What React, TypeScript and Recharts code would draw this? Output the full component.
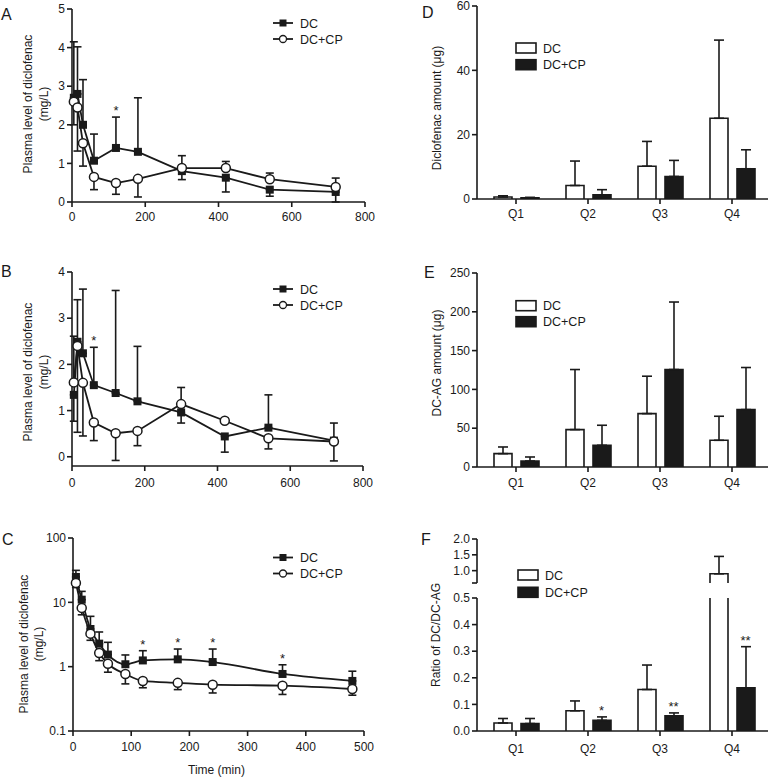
import React from "react";
import {
  LineChart,
  ComposedChart,
  Line,
  Bar,
  XAxis,
  YAxis,
  ErrorBar,
  LabelList,
} from "recharts";

const FONT = "'Liberation Sans', Arial, Helvetica, sans-serif";
const INK = "#1a1a1a";

const seriesNames = ["DC", "DC+CP"];

// A: plasma diclofenac, linear scale
const minutesAB = [5, 15, 30, 60, 120, 180, 300, 420, 540, 720];
const dcMeanA = [2.7, 2.8, 2.0, 1.07, 1.4, 1.3, 0.8, 0.63, 0.32, 0.26];
const dcUpA = [1.45, 1.22, 1.17, 0.69, 0.8, 1.4, 0, 0, 0, 0];
const dcDownA = [0, 0, 0, 0, 0, 0, 0.22, 0.37, 0.17, 0.26];
const cpMeanA = [2.6, 2.45, 1.52, 0.65, 0.49, 0.6, 0.88, 0.88, 0.59, 0.39];
const cpUpA = [0, 0, 0, 0, 0, 0, 0.32, 0.17, 0.16, 0.23];
const cpDownA = [0.6, 1.13, 0.59, 0.33, 0.29, 0.47, 0, 0, 0, 0];
const sigA = ["", "", "", "", "*", "", "", "", "", ""];

// B
const dcMeanB = [1.34, 2.49, 2.24, 1.55, 1.38, 1.2, 0.96, 0.44, 0.63, 0.35];
const dcUpB = [0, 0.91, 1.39, 0.82, 2.22, 1.19, 0, 0, 0.71, 0.38];
const dcDownB = [0.57, 0, 0, 0, 0, 0, 0.23, 0.34, 0, 0.44];
const cpMeanB = [1.61, 2.4, 1.6, 0.74, 0.51, 0.56, 1.14, 0.78, 0.4, 0.33];
const cpUpB = [1.0, 0, 0, 0, 0, 0, 0.36, 0.05, 0, 0];
const cpDownB = [0, 1.87, 1.15, 0.39, 0.59, 0.32, 0, 0, 0.23, 0];
const sigB = ["", "", "", "*", "", "", "", "", "", ""];

// C: log scale
const minutesC = [5, 15, 30, 45, 60, 90, 120, 180, 240, 360, 480];
const dcMeanC = [24.8, 11, 3.85, 2.28, 1.54, 1.09, 1.25, 1.3, 1.18, 0.77, 0.6];
const dcUpC = [6.6, 3.8, 2.21, 1.18, 0.85, 0.43, 0.52, 0.58, 0.7, 0.3, 0.25];
const cpMeanC = [20, 8.2, 3.26, 1.63, 1.11, 0.77, 0.6, 0.56, 0.525, 0.506, 0.45];
const cpDownC = [3, 1.8, 0.69, 0.39, 0.29, 0.23, 0.13, 0.12, 0.135, 0.136, 0.09];
const sigC = ["", "", "", "", "", "", "*", "*", "*", "*", ""];

// D-F: urinary amounts per quarter
const quarters = ["Q1", "Q2", "Q3", "Q4"];
const dcD = [0.6, 4.2, 10.2, 25.1];
const dcSdD = [0.4, 7.6, 7.7, 24.3];
const cpD = [0.4, 1.3, 7.0, 9.4];
const cpSdD = [0.1, 1.6, 5.0, 5.9];

const dcE = [17.2, 48.2, 68.8, 34.4];
const dcSdE = [8.6, 77.4, 48.2, 31.0];
const cpE = [7.7, 28.0, 125.6, 74.0];
const cpSdE = [5.2, 25.8, 87.0, 54.2];

const dcF = [0.03, 0.076, 0.156, 0.9];
const dcSdF = [0.017, 0.037, 0.092, 0.55];
const cpF = [0.028, 0.04, 0.057, 0.162];
const cpSdF = [0.019, 0.013, 0.011, 0.155];
const sigF = ["", "*", "**", "**"];

const F_LOW_TOP = 0.5;
const F_HIGH_BOTTOM = 0.61;

const axisStyle = {
  axisLine: { stroke: INK, strokeWidth: 1.6 },
  tickLine: { stroke: INK, strokeWidth: 1.6 },
  tick: { fill: INK, fontSize: 12, fontFamily: FONT },
  tickSize: 5,
};

const errPair = (lo: number, hi: number) => (lo || hi ? [lo, hi] : null);

function pkRows(
  t: number[],
  dc: number[],
  dcUp: number[],
  dcDown: number[] | null,
  cp: number[],
  cpUp: number[] | null,
  cpDown: number[],
  sig: string[]
) {
  return t.map((time, i) => ({
    t: time,
    dc: dc[i],
    dcErr: errPair(dcDown ? dcDown[i] : 0, dcUp[i]),
    cp: cp[i],
    cpErr: errPair(cpDown[i], cpUp ? cpUp[i] : 0),
    sig: sig[i] || undefined,
    star: sig[i] ? dc[i] + dcUp[i] : null,
  }));
}

function quarterRows(
  dc: number[],
  dcSd: number[],
  cp: number[],
  cpSd: number[],
  sig: string[] = [],
  range: [number, number] = [-Infinity, Infinity]
) {
  const [lo, hi] = range;
  const cell = (v: number, sd: number) =>
    v <= lo
      ? { v: null, err: null, open: false }
      : { v: Math.min(v, hi), err: v > hi ? null : [0, sd], open: v > hi };
  return quarters.map((q, i) => {
    const a = cell(dc[i], dcSd[i]);
    const b = cell(cp[i], cpSd[i]);
    return {
      q,
      dc: a.v,
      dcErr: a.err,
      dcOpen: a.open,
      cp: b.v,
      cpErr: b.err,
      cpOpen: b.open,
      sig: sig[i] || undefined,
      star: sig[i] ? cp[i] + cpSd[i] : null,
    };
  });
}

const rowsA = pkRows(minutesAB, dcMeanA, dcUpA, dcDownA, cpMeanA, cpUpA, cpDownA, sigA);
const rowsB = pkRows(minutesAB, dcMeanB, dcUpB, dcDownB, cpMeanB, cpUpB, cpDownB, sigB);
const rowsC = pkRows(minutesC, dcMeanC, dcUpC, null, cpMeanC, null, cpDownC, sigC);
const rowsD = quarterRows(dcD, dcSdD, cpD, cpSdD);
const rowsE = quarterRows(dcE, dcSdE, cpE, cpSdE);
const rowsFLow = quarterRows(dcF, dcSdF, cpF, cpSdF, sigF, [-Infinity, F_LOW_TOP]);
const rowsFHigh = quarterRows(dcF, dcSdF, cpF, cpSdF, [], [F_HIGH_BOTTOM, Infinity]);

function SquareDot(p: any) {
  if (p.cx == null || p.cy == null) return <g key={p.index} />;
  return <rect key={p.index} x={p.cx - 4} y={p.cy - 4} width={8} height={8} fill={INK} />;
}

function starLabel(dx: number) {
  return (p: any) => {
    if (!p.value) return null;
    const x = (p.viewBox?.x ?? p.x) + dx;
    const y = p.viewBox?.y ?? p.y;
    if (x == null || y == null || isNaN(x) || isNaN(y)) return null;
    return (
      <text x={x} y={y - 2} textAnchor="middle" fontSize={13} fontFamily={FONT} fill={INK}>
        {p.value}
      </text>
    );
  };
}

// bar with no bottom edge; top edge left off when the value runs past the axis break
function OpenBar(props: any) {
  const { x, y, width, height, fill, openTop } = props;
  if (x == null || y == null || !height || height <= 0) return <g />;
  const b = y + height;
  const edge = openTop
    ? `M${x},${b}L${x},${y}M${x + width},${y}L${x + width},${b}`
    : `M${x},${b}L${x},${y}L${x + width},${y}L${x + width},${b}`;
  return (
    <g>
      <rect x={x} y={y} width={width} height={height} fill={fill} />
      <path d={edge} fill="none" stroke={INK} strokeWidth={1.6} />
    </g>
  );
}

interface PkProps {
  rows: any[];
  height: number;
  top: number;
  right: number;
  yWidth: number;
  xHeight: number;
  tickGap: number;
  xMax: number;
  xTicks: number[];
  yDomain: [number, number];
  yTicks: number[];
  log?: boolean;
}

function PkChart(p: PkProps) {
  const curve = p.log ? "monotone" : "linear";
  return (
    <LineChart
      width={380}
      height={p.height}
      data={p.rows}
      margin={{ top: p.top, right: p.right, left: 0, bottom: 0 }}
    >
      <XAxis
        type="number"
        dataKey="t"
        domain={[0, p.xMax]}
        ticks={p.xTicks}
        interval={0}
        height={p.xHeight}
        tickMargin={p.tickGap}
        {...axisStyle}
      />
      <YAxis
        type="number"
        domain={p.yDomain}
        ticks={p.yTicks}
        interval={0}
        scale={p.log ? "log" : "auto"}
        width={p.yWidth}
        tickMargin={2}
        tickFormatter={(v) => String(v)}
        {...axisStyle}
      />
      <Line
        dataKey="dc"
        type={curve}
        stroke={INK}
        strokeWidth={1.8}
        dot={SquareDot}
        activeDot={false}
        isAnimationActive={false}
      >
        <ErrorBar dataKey="dcErr" direction="y" width={4} stroke={INK} strokeWidth={1.6} />
      </Line>
      <Line
        dataKey="cp"
        type={curve}
        stroke={INK}
        strokeWidth={1.8}
        dot={{ r: 4.5, fill: "#fff", stroke: INK, strokeWidth: 1.5 }}
        activeDot={false}
        isAnimationActive={false}
      >
        <ErrorBar dataKey="cpErr" direction="y" width={4} stroke={INK} strokeWidth={1.6} />
      </Line>
      <Line dataKey="star" stroke="none" dot={false} activeDot={false} isAnimationActive={false}>
        <LabelList dataKey="sig" content={starLabel(0)} />
      </Line>
    </LineChart>
  );
}

interface QProps {
  rows: any[];
  height: number;
  top: number;
  bottom?: number;
  xHeight: number;
  tickGap: number;
  domain: [number, number];
  ticks: number[];
  fmt: (v: number) => string;
  hideX?: boolean;
}

function QuarterChart(p: QProps) {
  return (
    <ComposedChart
      width={377}
      height={p.height}
      data={p.rows}
      margin={{ top: p.top, right: 9, left: 0, bottom: p.bottom ?? 0 }}
      barSize={18}
      barGap={9}
    >
      <XAxis
        dataKey="q"
        type="category"
        hide={p.hideX}
        height={p.hideX ? 0 : p.xHeight}
        padding={{ left: 3, right: 0 }}
        tickMargin={p.tickGap}
        {...axisStyle}
      />
      <YAxis
        type="number"
        domain={p.domain}
        ticks={p.ticks}
        interval={0}
        allowDataOverflow
        width={77}
        tickMargin={2}
        tickFormatter={p.fmt}
        {...axisStyle}
      />
      <Bar
        dataKey="dc"
        fill="#fff"
        isAnimationActive={false}
        shape={(s: any) => <OpenBar {...s} openTop={!!s.payload?.dcOpen} />}
      >
        <ErrorBar dataKey="dcErr" direction="y" width={5} stroke={INK} strokeWidth={1.6} />
      </Bar>
      <Bar
        dataKey="cp"
        fill={INK}
        isAnimationActive={false}
        shape={(s: any) => <OpenBar {...s} openTop={!!s.payload?.cpOpen} />}
      >
        <ErrorBar dataKey="cpErr" direction="y" width={5} stroke={INK} strokeWidth={1.6} />
      </Bar>
      <Line dataKey="star" stroke="none" dot={false} activeDot={false} isAnimationActive={false}>
        <LabelList dataKey="sig" content={starLabel(13.5)} />
      </Line>
    </ComposedChart>
  );
}

function LineKey({ x, y }: { x: number; y: number }) {
  return (
    <g fontFamily={FONT} fontSize={12.5} fill={INK}>
      <line x1={x} x2={x + 20} y1={y} y2={y} stroke={INK} strokeWidth={1.8} />
      <rect x={x + 6.5} y={y - 3.5} width={7} height={7} fill={INK} />
      <text x={x + 27} y={y + 4.5}>{seriesNames[0]}</text>
      <line x1={x} x2={x + 20} y1={y + 16} y2={y + 16} stroke={INK} strokeWidth={1.8} />
      <circle cx={x + 10} cy={y + 16} r={3.5} fill="#fff" stroke={INK} strokeWidth={1.3} />
      <text x={x + 27} y={y + 20.5}>{seriesNames[1]}</text>
    </g>
  );
}

function BarKey({ x, y, gap }: { x: number; y: number; gap: number }) {
  return (
    <g fontFamily={FONT} fontSize={12.5} fill={INK}>
      <rect x={x} y={y - 5} width={20} height={10} fill="#fff" stroke={INK} strokeWidth={1.6} />
      <text x={x + 27} y={y + 4.5}>{seriesNames[0]}</text>
      <rect x={x} y={y + gap - 5} width={20} height={10} fill={INK} stroke={INK} strokeWidth={1.6} />
      <text x={x + 27} y={y + gap + 4.5}>{seriesNames[1]}</text>
    </g>
  );
}

function VTitle({ x, y, lines, gap = 16 }: { x: number; y: number; lines: string[]; gap?: number }) {
  return (
    <text
      transform={`rotate(-90 ${x} ${y})`}
      x={x}
      y={y}
      textAnchor="middle"
      fontSize={12}
      fontFamily={FONT}
      fill={INK}
    >
      {lines.map((l, i) => (
        <tspan key={l} x={x} dy={i === 0 ? 0 : gap}>
          {l}
        </tspan>
      ))}
    </text>
  );
}

const plasmaTitle = ["Plasma level of diclofenac", "(mg/L)"];

export default function App() {
  const box = (left: number, top: number): React.CSSProperties => ({
    position: "absolute",
    left,
    top,
  });
  return (
    <div
      style={{
        position: "absolute",
        left: 0,
        top: 0,
        width: 777,
        height: 778,
        background: "#fff",
        fontFamily: FONT,
      }}
    >
      <div style={box(0, 0)}>
        <PkChart
          rows={rowsA}
          height={232}
          top={9}
          right={15}
          yWidth={72}
          xHeight={30}
          tickGap={5}
          xMax={800}
          xTicks={[0, 200, 400, 600, 800]}
          yDomain={[0, 5]}
          yTicks={[0, 1, 2, 3, 4, 5]}
        />
      </div>
      <div style={box(0, 240)}>
        <PkChart
          rows={rowsB}
          height={250}
          top={32}
          right={17}
          yWidth={72}
          xHeight={24}
          tickGap={7}
          xMax={800}
          xTicks={[0, 200, 400, 600, 800]}
          yDomain={[-0.2, 4]}
          yTicks={[0, 1, 2, 3, 4]}
        />
      </div>
      <div style={box(0, 500)}>
        <PkChart
          rows={rowsC}
          height={278}
          top={38}
          right={16}
          yWidth={73}
          xHeight={47}
          tickGap={6}
          xMax={500}
          xTicks={[0, 100, 200, 300, 400, 500]}
          yDomain={[0.1, 100]}
          yTicks={[0.1, 1, 10, 100]}
          log
        />
      </div>

      <div style={box(400, 0)}>
        <QuarterChart
          rows={rowsD}
          height={232}
          top={6}
          xHeight={33}
          tickGap={5}
          domain={[0, 60]}
          ticks={[0, 20, 40, 60]}
          fmt={(v) => String(v)}
        />
      </div>
      <div style={box(400, 240)}>
        <QuarterChart
          rows={rowsE}
          height={250}
          top={33}
          xHeight={23}
          tickGap={6}
          domain={[0, 250]}
          ticks={[0, 50, 100, 150, 200, 250]}
          fmt={(v) => String(v)}
        />
      </div>
      <div style={box(400, 530)}>
        <QuarterChart
          rows={rowsFLow}
          height={248}
          top={68}
          xHeight={47}
          tickGap={8}
          domain={[0, F_LOW_TOP]}
          ticks={[0, 0.1, 0.2, 0.3, 0.4, 0.5]}
          fmt={(v) => v.toFixed(1)}
        />
      </div>
      <div style={box(400, 530)}>
        <QuarterChart
          rows={rowsFHigh}
          height={60}
          top={9}
          bottom={7}
          xHeight={0}
          tickGap={0}
          domain={[F_HIGH_BOTTOM, 2]}
          ticks={[F_HIGH_BOTTOM, 1, 1.5, 2]}
          fmt={(v) => (v < 0.9 ? "" : v.toFixed(1))}
          hideX
        />
      </div>

      <svg
        width={777}
        height={778}
        style={{ position: "absolute", left: 0, top: 0, pointerEvents: "none" }}
      >
        <g fontFamily={FONT} fontSize={16} fill={INK}>
          <text x={1} y={20}>A</text>
          <text x={1} y={277}>B</text>
          <text x={2} y={545}>C</text>
          <text x={422} y={18}>D</text>
          <text x={424} y={278}>E</text>
          <text x={421} y={545}>F</text>
        </g>
        <VTitle x={31.5} y={104} lines={plasmaTitle} gap={16} />
        <VTitle x={31.5} y={372} lines={plasmaTitle} gap={16.5} />
        <VTitle x={28} y={644} lines={plasmaTitle} gap={14.5} />
        <VTitle x={441} y={108} lines={["Diclofenac amount (\u03bcg)"]} />
        <VTitle x={441} y={363} lines={["DC-AG amount (\u03bcg)"]} />
        <VTitle x={440} y={635} lines={["Ratio of DC/DC-AG"]} />
        <text x={216.5} y={774} textAnchor="middle" fontSize={12} fontFamily={FONT} fill={INK}>
          Time  (min)
        </text>
        <LineKey x={273} y={23} />
        <LineKey x={273} y={289} />
        <LineKey x={273} y={557.5} />
        <BarKey x={516} y={48} gap={16.7} />
        <BarKey x={516} y={305.7} gap={16} />
        <BarKey x={518} y={575} gap={17.3} />
      </svg>
    </div>
  );
}
